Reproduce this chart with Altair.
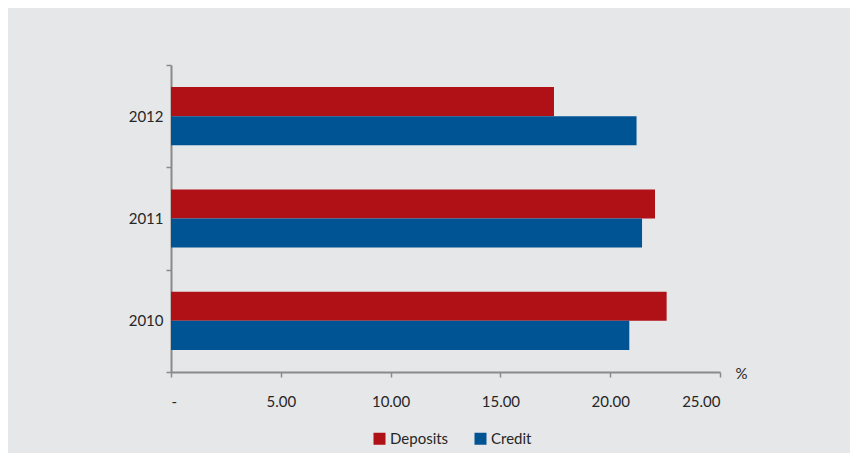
import altair as alt
import pandas as pd

years = ["2012", "2011", "2010"]
series = ["Deposits", "Credit"]
deposits = [17.44, 22.04, 22.57]
credit = [21.20, 21.45, 20.87]
tick_values = [0, 5, 10, 15, 20, 25]

RED = "#B01117"
BLUE = "#005494"
GREY_AXIS = "#8a8a8a"
TEXT = "#262626"
FONT = "Lato"

rows = []
for yr, d, c in zip(years, deposits, credit):
    rows.append({"year": yr, "series": "Deposits", "value": d})
    rows.append({"year": yr, "series": "Credit", "value": c})
df = pd.DataFrame(rows)

chart = alt.Chart(df).mark_bar().encode(
    x=alt.X(
        "value:Q",
        scale=alt.Scale(domain=[0, 25], nice=False),
        axis=alt.Axis(
            values=tick_values,
            labelExpr="datum.value == 0 ? '-' : format(datum.value, '.2f')",
            title="%",
            titleX=570,
            titleY=1,
            titleBaseline="middle",
            titleAlign="center",
            titleAngle=0,
            titleFontWeight="normal",
            titleFontSize=15,
            titleColor=TEXT,
            titleFont=FONT,
            tickSize=5,
            labelPadding=17,
            grid=False,
            domainColor=GREY_AXIS,
            domainWidth=2,
            tickColor=GREY_AXIS,
            tickWidth=1.5,
        ),
    ),
    y=alt.Y(
        "year:N",
        sort=years,
        scale=alt.Scale(domain=years, paddingInner=0, paddingOuter=0),
        axis=alt.Axis(
            title=None,
            tickBand="extent",
            tickSize=5,
            labelPadding=3,
            domainColor=GREY_AXIS,
            domainWidth=2,
            tickColor=GREY_AXIS,
            tickWidth=1.5,
        ),
    ),
    yOffset=alt.YOffset(
        "series:N",
        sort=series,
        scale=alt.Scale(domain=series, paddingInner=0, paddingOuter=0.759),
    ),
    color=alt.Color(
        "series:N",
        sort=series,
        scale=alt.Scale(domain=series, range=[RED, BLUE]),
        legend=alt.Legend(
            title=None,
            orient="none",
            direction="horizontal",
            legendX=201,
            legendY=366,
            symbolType="square",
            symbolSize=144,
            symbolStrokeWidth=0,
            labelOffset=3,
            columnPadding=24,
            padding=0,
        ),
    ),
).properties(
    width=549,
    height=307,
    padding={"left": 163, "top": 57, "right": 130, "bottom": 81},
    autosize=alt.AutoSizeParams(type="none"),
    background="#E6E7E8",
).configure_view(
    stroke=None
).configure_axis(
    labelFont=FONT,
    labelFontSize=15,
    labelColor=TEXT,
).configure_legend(
    labelFont=FONT,
    labelFontSize=15,
    labelColor=TEXT,
)

chart.save("out.html", embed_options={"renderer": "svg", "actions": False})
